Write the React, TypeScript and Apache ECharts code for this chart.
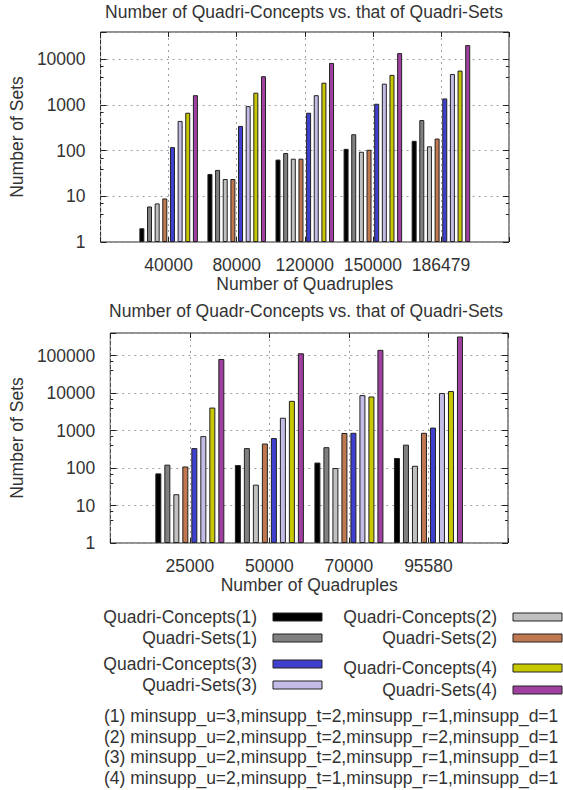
import React, { useEffect, useRef } from "react";
import * as echarts from "echarts";

const topCategories = ["40000", "80000", "120000", "150000", "186479"];
const bottomCategories = ["25000", "50000", "70000", "95580"];

const seriesNames = [
  "Quadri-Concepts(1)",
  "Quadri-Sets(1)",
  "Quadri-Concepts(2)",
  "Quadri-Sets(2)",
  "Quadri-Concepts(3)",
  "Quadri-Sets(3)",
  "Quadri-Concepts(4)",
  "Quadri-Sets(4)",
];
const seriesColors = ["#000000", "#808080", "#c0c0c0", "#c07850", "#4040d0", "#c4bce6", "#c8c800", "#a040a0"];

// top chart values (per series, per category)
const topConcepts1 = [2, 31, 64, 110, 165];
const topSets1 = [6, 38, 89, 230, 470];
const topConcepts2 = [7, 24, 67, 95, 125];
const topSets2 = [9, 24, 67, 105, 185];
const topConcepts3 = [120, 350, 680, 1070, 1400];
const topSets3 = [450, 950, 1650, 2950, 4800];
const topConcepts4 = [680, 1870, 3100, 4600, 5700];
const topSets4 = [1650, 4300, 8400, 13800, 20700];

// bottom chart values
const botConcepts1 = [72, 120, 140, 185];
const botSets1 = [123, 340, 360, 420];
const botConcepts2 = [20, 36, 100, 115];
const botSets2 = [110, 450, 860, 870];
const botConcepts3 = [340, 630, 870, 1200];
const botSets3 = [710, 2200, 8800, 10000];
const botConcepts4 = [4100, 6200, 8100, 11300];
const botSets4 = [81000, 115000, 142000, 323000];

const topValues = [topConcepts1, topSets1, topConcepts2, topSets2, topConcepts3, topSets3, topConcepts4, topSets4];
const botValues = [botConcepts1, botSets1, botConcepts2, botSets2, botConcepts3, botSets3, botConcepts4, botSets4];

const topTitle = "Number of Quadri-Concepts vs. that of Quadri-Sets";
const bottomTitle = "Number of Quadr-Concepts vs. that of Quadri-Sets";
const xName = "Number of Quadruples";
const yName = "Number of Sets";

const settingNotes = [
  "(1) minsupp_u=3,minsupp_t=2,minsupp_r=1,minsupp_d=1",
  "(2) minsupp_u=2,minsupp_t=2,minsupp_r=2,minsupp_d=1",
  "(3) minsupp_u=2,minsupp_t=2,minsupp_r=1,minsupp_d=1",
  "(4) minsupp_u=2,minsupp_t=1,minsupp_r=1,minsupp_d=1",
];

const FONT = "'Liberation Sans', Arial, sans-serif";
const FS = 17.5;
const TXT = "#333";

export default function App() {
  const ref = useRef<HTMLDivElement>(null);
  useEffect(() => {
    if (!ref.current) return;
    const chart = echarts.init(ref.current, null, { renderer: "svg" });

    const powLabel = (v: number) => {
      const l = Math.log10(v);
      return Math.abs(l - Math.round(l)) < 1e-6 ? String(Math.round(v)) : "";
    };

    const grids = [
      { left: 98, top: 32, width: 411, height: 210 },
      { left: 108, top: 333, width: 400, height: 210 },
    ];
    const cats = [topCategories, bottomCategories];
    const maxes = [40000, 400000];
    const yGaps = [72, 82];

    const xAxes: any[] = [];
    const yAxes: any[] = [];
    cats.forEach((c, gi) => {
      const data = ["", ...c, ""];
      xAxes.push({
        type: "category",
        gridIndex: gi,
        data,
        boundaryGap: false,
        position: "bottom",
        axisLine: { show: false },
        axisTick: { show: true, inside: true, length: 5, lineStyle: { color: "#222" } },
        axisLabel: { fontFamily: FONT, fontSize: FS, color: TXT, margin: 14, interval: 0 },
        splitLine: { show: true, lineStyle: { color: "#a0a0a0", type: [2, 4], width: 1 } },
        name: xName,
        nameLocation: "middle",
        nameGap: 32,
        nameTextStyle: { fontFamily: FONT, fontSize: FS, color: TXT },
      });
      xAxes.push({
        type: "category",
        gridIndex: gi,
        data,
        boundaryGap: false,
        position: "top",
        axisLine: { show: false },
        axisTick: { show: true, inside: true, length: 5, lineStyle: { color: "#222" } },
        axisLabel: { show: false },
        splitLine: { show: false },
      });
      yAxes.push({
        type: "log",
        gridIndex: gi,
        min: 1,
        max: maxes[gi],
        position: "left",
        axisLine: { show: false },
        axisTick: { show: true, inside: true, length: 6, lineStyle: { color: "#222" } },
        minorTick: { show: true, splitNumber: 3, length: 3, lineStyle: { color: "#222" } },
        axisLabel: { fontFamily: FONT, fontSize: FS, color: TXT, margin: 15, formatter: powLabel },
        splitLine: { show: true, lineStyle: { color: "#a0a0a0", type: [2, 4], width: 1 } },
        name: yName,
        nameLocation: "middle",
        nameGap: yGaps[gi],
        nameRotate: 90,
        nameTextStyle: { fontFamily: FONT, fontSize: FS, color: TXT },
      });
      yAxes.push({
        type: "log",
        gridIndex: gi,
        min: 1,
        max: maxes[gi],
        position: "right",
        axisLine: { show: false },
        axisTick: { show: true, inside: true, length: 6, lineStyle: { color: "#222" } },
        minorTick: { show: true, splitNumber: 3, length: 3, lineStyle: { color: "#222" } },
        axisLabel: { show: false },
        splitLine: { show: false },
      });
    });

    const series: any[] = [];
    [topValues, botValues].forEach((vals, gi) => {
      vals.forEach((arr, si) => {
        series.push({
          type: "bar",
          name: seriesNames[si],
          xAxisIndex: gi * 2,
          yAxisIndex: gi * 2,
          data: [null, ...arr, null],
          barWidth: gi === 0 ? 5 : 6,
          barGap: gi === 0 ? "53%" : "50%",
          itemStyle: { color: seriesColors[si], borderColor: "#222", borderWidth: 1 },
        });
      });
    });

    const graphic: any[] = [];
    const legendPos = [
      { tx: 257, rx: 273, y: 617 },
      { tx: 257, rx: 273, y: 638 },
      { tx: 497, rx: 513, y: 617 },
      { tx: 497, rx: 513, y: 638 },
      { tx: 257, rx: 273, y: 664 },
      { tx: 257, rx: 273, y: 685 },
      { tx: 497, rx: 513, y: 668 },
      { tx: 497, rx: 513, y: 690 },
    ];
    seriesNames.forEach((n, i) => {
      const p = legendPos[i];
      graphic.push({
        type: "text",
        x: p.tx,
        y: p.y,
        style: { text: n, align: "right", verticalAlign: "middle", fontFamily: FONT, fontSize: FS, fill: TXT },
      });
      graphic.push({
        type: "rect",
        shape: { x: p.rx, y: p.y - 4, width: 49, height: 8 },
        style: { fill: seriesColors[i], stroke: "#222", lineWidth: 1 },
      });
    });
    settingNotes.forEach((t, i) => {
      graphic.push({
        type: "text",
        x: 104,
        y: 716 + i * 20.5,
        style: { text: t, align: "left", verticalAlign: "middle", fontFamily: FONT, fontSize: FS, fill: TXT },
      });
    });

    chart.setOption({
      animation: false,
      backgroundColor: "#fff",
      title: [
        {
          text: topTitle,
          left: 304,
          top: 3,
          padding: 0,
          textAlign: "center",
          textStyle: { fontFamily: FONT, fontSize: FS, fontWeight: "normal", color: TXT },
        },
        {
          text: bottomTitle,
          left: 306,
          top: 302,
          padding: 0,
          textAlign: "center",
          textStyle: { fontFamily: FONT, fontSize: FS, fontWeight: "normal", color: TXT },
        },
      ],
      grid: grids.map((g) => ({ ...g, show: true, borderColor: "#222", borderWidth: 1, backgroundColor: "#fff", containLabel: false })),
      xAxis: xAxes,
      yAxis: yAxes,
      series,
      graphic,
    });
    return () => chart.dispose();
  }, []);
  return <div ref={ref} style={{ position: "absolute", left: 0, top: 0, width: 563, height: 790 }} />;
}
